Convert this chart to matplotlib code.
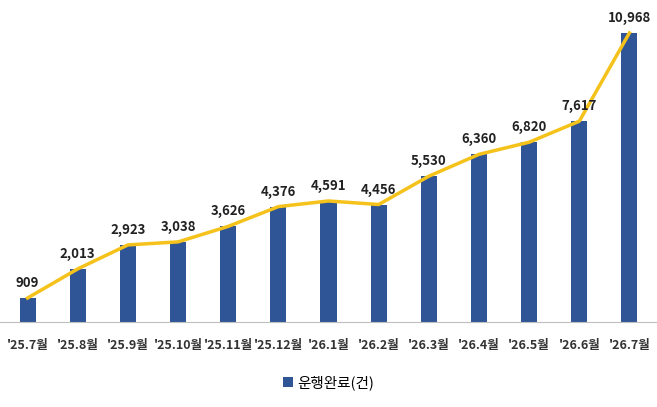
import matplotlib.pyplot as plt

plt.rcParams['font.family'] = ['Noto Sans CJK KR', 'DejaVu Sans']

months = ["'25.7월", "'25.8월", "'25.9월", "'25.10월", "'25.11월", "'25.12월", "'26.1월",
          "'26.2월", "'26.3월", "'26.4월", "'26.5월", "'26.6월", "'26.7월"]
completed = [909, 2013, 2923, 3038, 3626, 4376, 4591, 4456, 5530, 6360, 6820, 7617, 10968]

fig = plt.figure(figsize=(6.57, 4.07), dpi=100)
ax = fig.add_axes([0, 0.209, 1, 0.751])
x = list(range(len(months)))
ax.bar(x, completed, width=0.32, color='#2F5597', label='운행완료(건)', zorder=2)
ax.plot(x, completed, color='#F5C21B', linewidth=2.5, zorder=3)
for xi, v in zip(x, completed):
    ax.text(xi, v + 300, f'{v:,}', ha='center', va='bottom', fontsize=9.5, fontweight='bold', color='#222222')

ax.set_xlim(-0.55, 12.55)
ax.set_ylim(0, 11600)
ax.set_yticks([])
ax.set_xticks(x)
ax.set_xticklabels(months, fontsize=9, fontweight='bold', color='#333333')
ax.tick_params(axis='x', length=0, pad=12)
for s in ['top', 'right', 'left']:
    ax.spines[s].set_visible(False)
ax.spines['bottom'].set_color('#BFBFBF')

fig.legend(loc='center', bbox_to_anchor=(0.5, 0.06), frameon=False, fontsize=10.5,
           handlelength=0.7, handleheight=0.7, handletextpad=0.3)
fig.savefig('out.png')
